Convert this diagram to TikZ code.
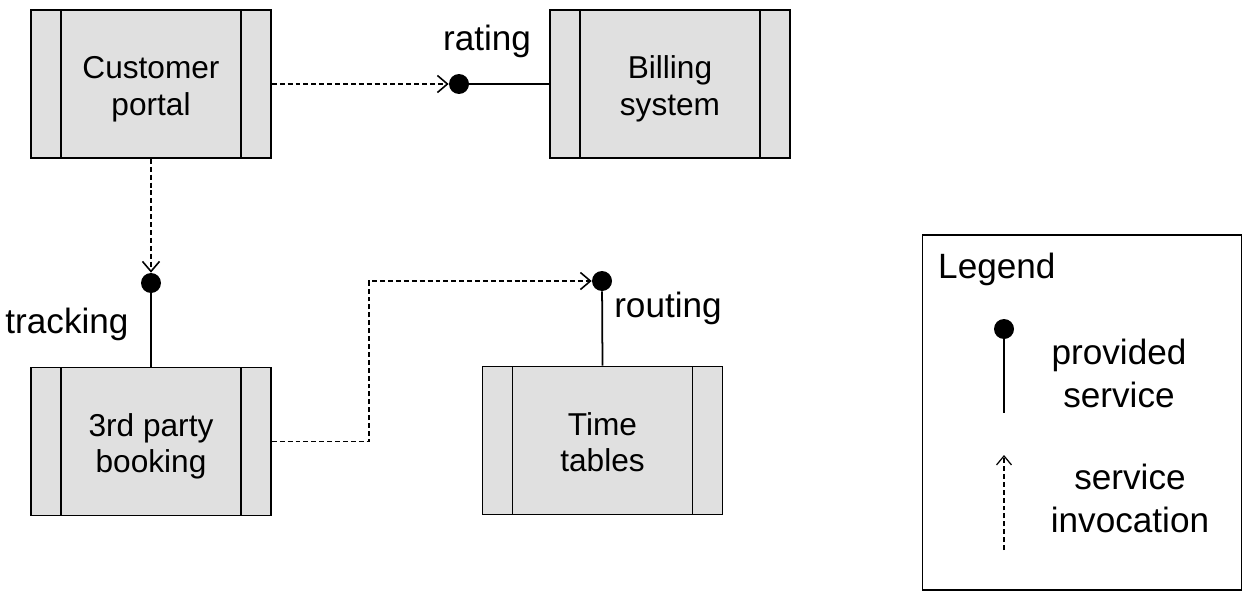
\documentclass[tikz,border=0pt]{standalone}
\usepackage{fontspec}
\setmainfont{Liberation Sans}
\usetikzlibrary{arrows.meta}

\definecolor{compgray}{RGB}{224,224,224}

\tikzset{
    component/.style={draw, line width=1pt, fill=compgray,
        minimum width=4.8cm, minimum height=2.96cm, align=center,
        font=\fontsize{18}{20.7}\selectfont,
        text height=38.5pt, text depth=3pt,
        path picture={
            \draw[line width=1pt]
                ([xshift=0.6cm]path picture bounding box.north west) -- ([xshift=0.6cm]path picture bounding box.south west)
                ([xshift=-0.6cm]path picture bounding box.north east) -- ([xshift=-0.6cm]path picture bounding box.south east);
        }},
    ball/.style={circle, fill=black, inner sep=0pt, minimum size=0.4cm},
    provide/.style={line width=1pt},
    invoke/.style={line width=0.8pt, dash pattern=on 2.8pt off 1.7pt,
        -{Straight Barb[length=0.2cm, width=0.34cm, line width=0.9pt]}},
    tag/.style={font=\fontsize{20}{24}\selectfont, anchor=base},
    legendtext/.style={font=\fontsize{20}{24.4}\selectfont, align=center}
}

\begin{document}
\begin{tikzpicture}[x=0.02cm, y=-0.02cm]
        \useasboundingbox (0,0) rectangle (1250,605);

        % Components
        \node[component] (portal) at (151,84) {Customer\\portal};
        \node[component] (billing) at (670,84) {Billing\\system};
        \node[component] (booking) at (151,441.5) {3rd party\\booking};
        \node[component] (timetables) at (602.5,440.5) {Time\\tables};

        % Provided services
        \node[ball] (rate) at (459,84) {};
        \node[ball] (track) at (151,283) {};
        \node[ball] (route) at (602,281) {};
        \draw[provide] (rate) -- (billing.west);
        \draw[provide] (track) -- (booking.north);
        \draw[provide] (route) -- (timetables.north);
        \node[tag] (ratelabel) at (487,51) {rating};
        \node[tag] (tracklabel) at (67,333) {tracking};
        \node[tag] (routelabel) at (668,317) {routing};

        % Service invocations
        \draw[invoke] (portal.east) -- (rate);
        \draw[invoke] (portal.south) -- (track);
        \coordinate (bend) at (369,441.5);
        \draw[invoke] (booking.east) -- (bend) |- (route);

        % Legend
        \node[draw, line width=0.8pt, minimum width=6.38cm, minimum height=7.1cm] (legend) at (1082,412.5) {};
        \node[anchor=base west, font=\fontsize{20}{24}\selectfont] (legendtitle) at (932,278) {Legend};
        \node[ball] (legball) at (1004,329) {};
        \coordinate (legprovend) at (1004,413);
        \draw[provide] (legball) -- (legprovend);
        \node[legendtext] (provtext) at (1119,373) {provided\\service};
        \coordinate (legfrom) at (1004,550);
        \coordinate (legto) at (1004,455);
        \draw[invoke, line width=0.7pt, -{Straight Barb[length=0.18cm, width=0.3cm, line width=0.7pt]}] (legfrom) -- (legto);
        \node[legendtext] (invtext) at (1130,498) {service\\invocation};
    \end{tikzpicture}
\end{document}
